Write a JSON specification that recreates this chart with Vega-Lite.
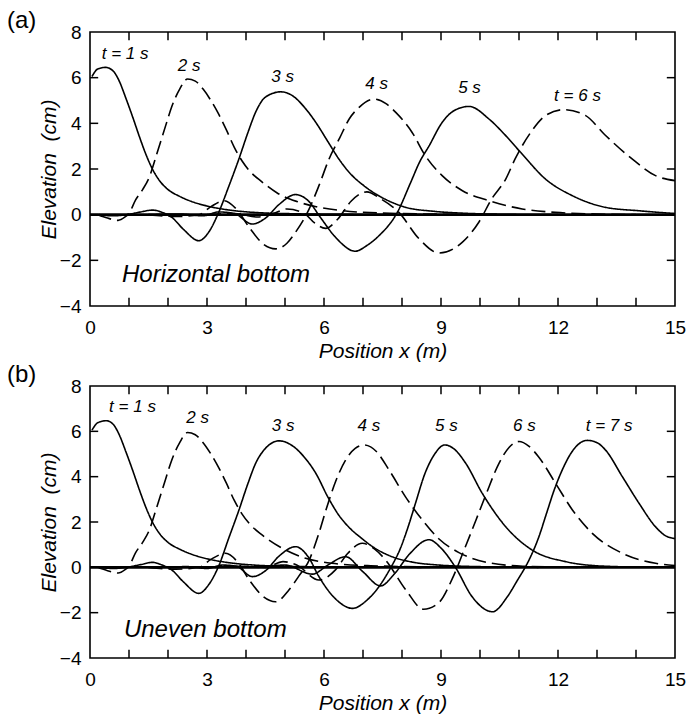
{
  "$schema": "https://vega.github.io/schema/vega-lite/v6.json",
  "padding": {"left": 6, "top": 8, "right": 0, "bottom": 0},
  "spacing": 0,
  "config": {
    "font": "Liberation Sans",
    "view": {"stroke": "black", "strokeWidth": 1.6},
    "axis": {
      "grid": false, "domain": false, "ticks": false,
      "labelColor": "black", "labelFontSize": 19, "labelFont": "Liberation Sans", "labelFlush": false, "labelOverlap": false,
      "titleFontSize": 21, "titleFontStyle": "italic", "titleFontWeight": "normal", "titleColor": "black", "titleFont": "Liberation Sans"
    },
    "title": {"fontSize": 24, "fontWeight": "normal", "anchor": "start", "frame": "group", "dx": -83, "offset": -10, "color": "black", "font": "Liberation Sans"}
  },
  "datasets": {
    "xticks": [{"v":1},{"v":2},{"v":3},{"v":4},{"v":5},{"v":6},{"v":7},{"v":8},{"v":9},{"v":10},{"v":11},{"v":12},{"v":13},{"v":14}],
    "yticks": [{"v":-2},{"v":0},{"v":2},{"v":4},{"v":6}],
    "a_lines": [
      {"t":1,"x":0.05,"y":6.05},{"t":1,"x":0.2,"y":6.38},{"t":1,"x":0.4,"y":6.45},{"t":1,"x":0.6,"y":6.28},{"t":1,"x":0.75,"y":5.85},{"t":1,"x":0.92,"y":5.1},{"t":1,"x":1.1,"y":4.25},{"t":1,"x":1.26,"y":3.45},{"t":1,"x":1.42,"y":2.7},{"t":1,"x":1.6,"y":2.0},{"t":1,"x":1.8,"y":1.45},{"t":1,"x":2.0,"y":1.1},{"t":1,"x":2.3,"y":0.8},{"t":1,"x":2.6,"y":0.58},{"t":1,"x":3.0,"y":0.38},{"t":1,"x":3.5,"y":0.22},{"t":1,"x":4.2,"y":0.1},{"t":1,"x":5.2,"y":0.04},{"t":1,"x":6.8,"y":0.01},{"t":1,"x":8.5,"y":0},
      {"t":2,"x":0.2,"y":0},{"t":2,"x":0.45,"y":-0.15},{"t":2,"x":0.72,"y":-0.25},{"t":2,"x":0.9,"y":-0.1},{"t":2,"x":1.0,"y":0.05},{"t":2,"x":1.17,"y":0.65},{"t":2,"x":1.35,"y":1.1},{"t":2,"x":1.51,"y":1.6},{"t":2,"x":1.72,"y":2.7},{"t":2,"x":1.94,"y":3.9},{"t":2,"x":2.1,"y":4.75},{"t":2,"x":2.3,"y":5.5},{"t":2,"x":2.5,"y":5.94},{"t":2,"x":2.7,"y":5.85},{"t":2,"x":2.9,"y":5.5},{"t":2,"x":3.1,"y":5.0},{"t":2,"x":3.3,"y":4.4},{"t":2,"x":3.5,"y":3.7},{"t":2,"x":3.7,"y":2.95},{"t":2,"x":3.9,"y":2.35},{"t":2,"x":4.1,"y":1.9},{"t":2,"x":4.4,"y":1.45},{"t":2,"x":4.8,"y":0.95},{"t":2,"x":5.3,"y":0.58},{"t":2,"x":5.8,"y":0.35},{"t":2,"x":6.5,"y":0.17},{"t":2,"x":7.5,"y":0.07},{"t":2,"x":9,"y":0.02},{"t":2,"x":10.5,"y":0},
      {"t":3,"x":0.23,"y":0},{"t":3,"x":0.6,"y":-0.05},{"t":3,"x":1.0,"y":0.02},{"t":3,"x":1.3,"y":0.12},{"t":3,"x":1.6,"y":0.2},{"t":3,"x":1.85,"y":0.1},{"t":3,"x":2.1,"y":-0.12},{"t":3,"x":2.4,"y":-0.65},{"t":3,"x":2.79,"y":-1.14},{"t":3,"x":3.05,"y":-0.75},{"t":3,"x":3.3,"y":0.1},{"t":3,"x":3.55,"y":1.2},{"t":3,"x":3.82,"y":2.45},{"t":3,"x":4.05,"y":3.6},{"t":3,"x":4.25,"y":4.5},{"t":3,"x":4.5,"y":5.15},{"t":3,"x":4.89,"y":5.38},{"t":3,"x":5.2,"y":5.2},{"t":3,"x":5.5,"y":4.7},{"t":3,"x":5.79,"y":4.04},{"t":3,"x":6.1,"y":3.2},{"t":3,"x":6.38,"y":2.44},{"t":3,"x":6.7,"y":1.75},{"t":3,"x":7.0,"y":1.3},{"t":3,"x":7.24,"y":1.0},{"t":3,"x":7.6,"y":0.65},{"t":3,"x":8.1,"y":0.32},{"t":3,"x":8.8,"y":0.15},{"t":3,"x":9.5,"y":0.07},{"t":3,"x":10.5,"y":0.02},{"t":3,"x":12,"y":0},
      {"t":4,"x":1.5,"y":0},{"t":4,"x":2.2,"y":-0.08},{"t":4,"x":2.8,"y":0.0},{"t":4,"x":3.1,"y":0.35},{"t":4,"x":3.44,"y":0.61},{"t":4,"x":3.75,"y":0.25},{"t":4,"x":4.1,"y":-0.6},{"t":4,"x":4.45,"y":-1.3},{"t":4,"x":4.76,"y":-1.5},{"t":4,"x":5.05,"y":-1.25},{"t":4,"x":5.27,"y":-0.77},{"t":4,"x":5.62,"y":0.25},{"t":4,"x":5.87,"y":1.27},{"t":4,"x":6.13,"y":2.44},{"t":4,"x":6.4,"y":3.35},{"t":4,"x":6.65,"y":4.2},{"t":4,"x":6.9,"y":4.7},{"t":4,"x":7.28,"y":5.06},{"t":4,"x":7.6,"y":4.85},{"t":4,"x":7.84,"y":4.48},{"t":4,"x":8.26,"y":3.6},{"t":4,"x":8.6,"y":2.58},{"t":4,"x":9.03,"y":1.71},{"t":4,"x":9.55,"y":1.05},{"t":4,"x":10.23,"y":0.61},{"t":4,"x":11.08,"y":0.25},{"t":4,"x":11.93,"y":0.1},{"t":4,"x":13,"y":0.03},{"t":4,"x":14,"y":0},
      {"t":5,"x":1.5,"y":0},{"t":5,"x":2.3,"y":0.03},{"t":5,"x":2.9,"y":-0.05},{"t":5,"x":3.3,"y":0.12},{"t":5,"x":3.7,"y":0.05},{"t":5,"x":4.16,"y":-0.41},{"t":5,"x":4.5,"y":-0.15},{"t":5,"x":4.85,"y":0.45},{"t":5,"x":5.27,"y":0.88},{"t":5,"x":5.6,"y":0.6},{"t":5,"x":5.9,"y":-0.1},{"t":5,"x":6.3,"y":-1.0},{"t":5,"x":6.8,"y":-1.6},{"t":5,"x":7.1,"y":-1.35},{"t":5,"x":7.41,"y":-0.92},{"t":5,"x":7.88,"y":0.1},{"t":5,"x":8.22,"y":1.4},{"t":5,"x":8.45,"y":2.3},{"t":5,"x":8.69,"y":3.0},{"t":5,"x":9.03,"y":4.04},{"t":5,"x":9.33,"y":4.55},{"t":5,"x":9.72,"y":4.74},{"t":5,"x":10.23,"y":4.19},{"t":5,"x":10.66,"y":3.46},{"t":5,"x":11.04,"y":2.73},{"t":5,"x":11.68,"y":1.56},{"t":5,"x":12.37,"y":0.83},{"t":5,"x":13.22,"y":0.32},{"t":5,"x":14.08,"y":0.17},{"t":5,"x":15,"y":0.05},
      {"t":6,"x":3.0,"y":0},{"t":6,"x":3.7,"y":0.05},{"t":6,"x":4.3,"y":-0.1},{"t":6,"x":4.7,"y":0.05},{"t":6,"x":5.05,"y":0.25},{"t":6,"x":5.5,"y":0.05},{"t":6,"x":5.75,"y":-0.35},{"t":6,"x":6.04,"y":-0.6},{"t":6,"x":6.35,"y":-0.2},{"t":6,"x":6.7,"y":0.6},{"t":6,"x":7.1,"y":1.0},{"t":6,"x":7.45,"y":0.7},{"t":6,"x":7.92,"y":0.1},{"t":6,"x":8.44,"y":-1.06},{"t":6,"x":8.95,"y":-1.68},{"t":6,"x":9.55,"y":-1.2},{"t":6,"x":9.97,"y":-0.33},{"t":6,"x":10.3,"y":0.69},{"t":6,"x":10.66,"y":1.56},{"t":6,"x":10.9,"y":2.44},{"t":6,"x":11.3,"y":3.6},{"t":6,"x":11.67,"y":4.33},{"t":6,"x":12.15,"y":4.6},{"t":6,"x":12.7,"y":4.35},{"t":6,"x":13.2,"y":3.5},{"t":6,"x":13.9,"y":2.44},{"t":6,"x":14.5,"y":1.71},{"t":6,"x":15,"y":1.49}
    ],
    "b_lines": [
      {"t":1,"x":0.05,"y":6.05},{"t":1,"x":0.2,"y":6.38},{"t":1,"x":0.42,"y":6.47},{"t":1,"x":0.6,"y":6.3},{"t":1,"x":0.75,"y":5.85},{"t":1,"x":0.92,"y":5.1},{"t":1,"x":1.1,"y":4.25},{"t":1,"x":1.26,"y":3.45},{"t":1,"x":1.42,"y":2.7},{"t":1,"x":1.6,"y":2.0},{"t":1,"x":1.8,"y":1.45},{"t":1,"x":2.0,"y":1.1},{"t":1,"x":2.3,"y":0.8},{"t":1,"x":2.6,"y":0.58},{"t":1,"x":3.0,"y":0.38},{"t":1,"x":3.5,"y":0.22},{"t":1,"x":4.2,"y":0.1},{"t":1,"x":5.2,"y":0.04},{"t":1,"x":6.8,"y":0.01},{"t":1,"x":8.5,"y":0},
      {"t":2,"x":0.2,"y":0},{"t":2,"x":0.45,"y":-0.15},{"t":2,"x":0.72,"y":-0.25},{"t":2,"x":0.9,"y":-0.1},{"t":2,"x":1.0,"y":0.05},{"t":2,"x":1.17,"y":0.65},{"t":2,"x":1.35,"y":1.1},{"t":2,"x":1.51,"y":1.6},{"t":2,"x":1.72,"y":2.7},{"t":2,"x":1.94,"y":3.9},{"t":2,"x":2.1,"y":4.75},{"t":2,"x":2.3,"y":5.5},{"t":2,"x":2.5,"y":5.95},{"t":2,"x":2.7,"y":5.85},{"t":2,"x":2.9,"y":5.5},{"t":2,"x":3.1,"y":5.0},{"t":2,"x":3.3,"y":4.4},{"t":2,"x":3.5,"y":3.7},{"t":2,"x":3.7,"y":2.95},{"t":2,"x":3.9,"y":2.35},{"t":2,"x":4.1,"y":1.9},{"t":2,"x":4.42,"y":1.42},{"t":2,"x":5.02,"y":0.76},{"t":2,"x":5.53,"y":0.4},{"t":2,"x":6.2,"y":0.18},{"t":2,"x":7.2,"y":0.07},{"t":2,"x":8.8,"y":0.02},{"t":2,"x":10.5,"y":0},
      {"t":3,"x":0.23,"y":0},{"t":3,"x":0.6,"y":-0.05},{"t":3,"x":1.0,"y":0.02},{"t":3,"x":1.3,"y":0.12},{"t":3,"x":1.6,"y":0.22},{"t":3,"x":1.85,"y":0.1},{"t":3,"x":2.1,"y":-0.12},{"t":3,"x":2.4,"y":-0.65},{"t":3,"x":2.79,"y":-1.15},{"t":3,"x":3.05,"y":-0.75},{"t":3,"x":3.31,"y":0.1},{"t":3,"x":3.55,"y":1.25},{"t":3,"x":3.82,"y":2.53},{"t":3,"x":4.05,"y":3.7},{"t":3,"x":4.25,"y":4.6},{"t":3,"x":4.5,"y":5.25},{"t":3,"x":4.85,"y":5.58},{"t":3,"x":5.2,"y":5.35},{"t":3,"x":5.5,"y":4.85},{"t":3,"x":5.79,"y":4.15},{"t":3,"x":6.1,"y":3.1},{"t":3,"x":6.38,"y":2.3},{"t":3,"x":6.65,"y":1.75},{"t":3,"x":6.95,"y":1.3},{"t":3,"x":7.3,"y":0.85},{"t":3,"x":7.67,"y":0.52},{"t":3,"x":8.3,"y":0.22},{"t":3,"x":8.95,"y":0.1},{"t":3,"x":10,"y":0.03},{"t":3,"x":11.5,"y":0},
      {"t":4,"x":1.5,"y":0},{"t":4,"x":2.2,"y":-0.08},{"t":4,"x":2.8,"y":0.0},{"t":4,"x":3.1,"y":0.35},{"t":4,"x":3.48,"y":0.62},{"t":4,"x":3.8,"y":0.2},{"t":4,"x":4.1,"y":-0.6},{"t":4,"x":4.45,"y":-1.3},{"t":4,"x":4.76,"y":-1.52},{"t":4,"x":5.1,"y":-1.0},{"t":4,"x":5.35,"y":-0.4},{"t":4,"x":5.62,"y":0.32},{"t":4,"x":5.85,"y":1.4},{"t":4,"x":6.05,"y":2.53},{"t":4,"x":6.3,"y":3.8},{"t":4,"x":6.56,"y":4.75},{"t":4,"x":6.8,"y":5.25},{"t":4,"x":7.03,"y":5.4},{"t":4,"x":7.35,"y":5.1},{"t":4,"x":7.67,"y":4.29},{"t":4,"x":8.09,"y":3.11},{"t":4,"x":8.52,"y":2.09},{"t":4,"x":8.95,"y":1.25},{"t":4,"x":9.46,"y":0.65},{"t":4,"x":10.23,"y":0.2},{"t":4,"x":11.1,"y":0.05},{"t":4,"x":12.5,"y":0},
      {"t":5,"x":1.5,"y":0},{"t":5,"x":2.5,"y":0.03},{"t":5,"x":3.0,"y":-0.05},{"t":5,"x":3.4,"y":0.1},{"t":5,"x":3.75,"y":0.05},{"t":5,"x":4.16,"y":-0.41},{"t":5,"x":4.5,"y":-0.15},{"t":5,"x":4.85,"y":0.5},{"t":5,"x":5.27,"y":0.91},{"t":5,"x":5.6,"y":0.45},{"t":5,"x":5.87,"y":-0.41},{"t":5,"x":6.3,"y":-1.4},{"t":5,"x":6.73,"y":-1.81},{"t":5,"x":7.1,"y":-1.45},{"t":5,"x":7.41,"y":-0.85},{"t":5,"x":7.7,"y":-0.05},{"t":5,"x":7.95,"y":0.8},{"t":5,"x":8.15,"y":1.75},{"t":5,"x":8.35,"y":2.85},{"t":5,"x":8.58,"y":4.1},{"t":5,"x":8.82,"y":4.95},{"t":5,"x":9.1,"y":5.4},{"t":5,"x":9.35,"y":5.2},{"t":5,"x":9.63,"y":4.6},{"t":5,"x":10.06,"y":3.26},{"t":5,"x":10.66,"y":1.79},{"t":5,"x":11.34,"y":0.76},{"t":5,"x":12.2,"y":0.25},{"t":5,"x":13.2,"y":0.05},{"t":5,"x":14.5,"y":0},
      {"t":6,"x":3.2,"y":0},{"t":6,"x":4.0,"y":0.05},{"t":6,"x":4.5,"y":0.0},{"t":6,"x":4.95,"y":0.25},{"t":6,"x":5.3,"y":0.1},{"t":6,"x":5.87,"y":-0.56},{"t":6,"x":6.3,"y":-0.1},{"t":6,"x":6.6,"y":0.6},{"t":6,"x":6.98,"y":1.06},{"t":6,"x":7.3,"y":0.8},{"t":6,"x":7.58,"y":0.32},{"t":6,"x":8.1,"y":-1.0},{"t":6,"x":8.55,"y":-1.85},{"t":6,"x":8.95,"y":-1.55},{"t":6,"x":9.29,"y":-0.5},{"t":6,"x":9.6,"y":0.8},{"t":6,"x":9.9,"y":2.1},{"t":6,"x":10.15,"y":3.2},{"t":6,"x":10.49,"y":4.6},{"t":6,"x":10.75,"y":5.3},{"t":6,"x":11.0,"y":5.55},{"t":6,"x":11.25,"y":5.35},{"t":6,"x":11.5,"y":4.88},{"t":6,"x":11.94,"y":3.7},{"t":6,"x":12.37,"y":2.53},{"t":6,"x":12.88,"y":1.5},{"t":6,"x":13.65,"y":0.62},{"t":6,"x":14.5,"y":0.18},{"t":6,"x":15,"y":0.08},
      {"t":7,"x":4.3,"y":0},{"t":7,"x":5.0,"y":0.1},{"t":7,"x":5.7,"y":-0.3},{"t":7,"x":6.1,"y":0.1},{"t":7,"x":6.55,"y":0.47},{"t":7,"x":7.0,"y":-0.2},{"t":7,"x":7.45,"y":-0.82},{"t":7,"x":7.8,"y":-0.3},{"t":7,"x":8.2,"y":0.6},{"t":7,"x":8.69,"y":1.22},{"t":7,"x":9.0,"y":0.85},{"t":7,"x":9.37,"y":0.0},{"t":7,"x":9.8,"y":-1.3},{"t":7,"x":10.32,"y":-1.96},{"t":7,"x":10.7,"y":-1.3},{"t":7,"x":10.95,"y":-0.6},{"t":7,"x":11.25,"y":0.3},{"t":7,"x":11.5,"y":1.3},{"t":7,"x":11.7,"y":2.35},{"t":7,"x":11.9,"y":3.4},{"t":7,"x":12.11,"y":4.3},{"t":7,"x":12.4,"y":5.2},{"t":7,"x":12.75,"y":5.6},{"t":7,"x":13.0,"y":5.5},{"t":7,"x":13.22,"y":5.17},{"t":7,"x":13.65,"y":4.0},{"t":7,"x":14.08,"y":2.82},{"t":7,"x":14.5,"y":1.79},{"t":7,"x":14.75,"y":1.4},{"t":7,"x":15,"y":1.27}
    ],
    "a_labels": [
      {"x":0.9,"y":6.8,"label":"t = 1 s"},{"x":2.54,"y":6.29,"label":"2 s"},{"x":4.94,"y":5.8,"label":"3 s"},{"x":7.35,"y":5.5,"label":"4 s"},{"x":9.73,"y":5.33,"label":"5 s"},{"x":12.5,"y":4.97,"label":"t = 6 s"}
    ],
    "b_labels": [
      {"x":1.09,"y":6.85,"label":"t = 1 s"},{"x":2.76,"y":6.37,"label":"2 s"},{"x":4.95,"y":6.01,"label":"3 s"},{"x":7.15,"y":6.01,"label":"4 s"},{"x":9.14,"y":6.01,"label":"5 s"},{"x":11.14,"y":6.01,"label":"6 s"},{"x":13.31,"y":6.01,"label":"t = 7 s"}
    ],
    "a_note": [{"x":0.82,"y":-2.95,"label":"Horizontal bottom"}],
    "b_note": [{"x":0.87,"y":-3.07,"label":"Uneven bottom"}]
  },
  "vconcat": [
    {
      "width": 585, "height": 274,
      "title": {"text": "(a)"},
      "resolve": {"axis": {"x": "independent", "y": "independent"}},
      "layer": [
        {
          "data": {"name": "a_lines"},
          "mark": {"type": "line", "interpolate": "monotone", "strokeWidth": 1.6, "color": "black", "clip": true},
          "encoding": {
            "x": {"field": "x", "type": "quantitative", "scale": {"domain": [0, 15], "nice": false, "zero": false},
                  "axis": {"orient": "bottom", "values": [0,3,6,9,12,15], "labelPadding": 12, "title": "Position x (m)", "titlePadding": 3}},
            "y": {"field": "y", "type": "quantitative", "scale": {"domain": [-4, 8], "nice": false, "zero": false},
                  "axis": {"orient": "left", "values": [-4,-2,0,2,4,6,8], "labelPadding": 9, "title": "Elevation\u00a0 (cm)", "titlePadding": 0}},
            "strokeDash": {"field": "t", "type": "nominal", "scale": {"domain": [1,2,3,4,5,6,7], "range": [[1,0],[14,6],[1,0],[14,6],[1,0],[14,6],[1,0]]}, "legend": null}
          }
        },
        {
          "data": {"name": "xticks"},
          "mark": {"type": "rule", "strokeWidth": 1.5, "color": "black"},
          "encoding": {"x": {"field": "v", "type": "quantitative", "axis": null}, "y": {"datum": -4, "type": "quantitative", "axis": null}, "y2": {"datum": -3.64}}
        },
        {
          "data": {"name": "xticks"},
          "mark": {"type": "rule", "strokeWidth": 1.5, "color": "black"},
          "encoding": {"x": {"field": "v", "type": "quantitative", "axis": null}, "y": {"datum": 8, "type": "quantitative", "axis": null}, "y2": {"datum": 7.64}}
        },
        {
          "data": {"name": "yticks"},
          "mark": {"type": "rule", "strokeWidth": 1.5, "color": "black"},
          "encoding": {"y": {"field": "v", "type": "quantitative", "axis": null}, "x": {"datum": 0, "type": "quantitative", "axis": null}, "x2": {"datum": 0.21}}
        },
        {
          "data": {"name": "yticks"},
          "mark": {"type": "rule", "strokeWidth": 1.5, "color": "black"},
          "encoding": {"y": {"field": "v", "type": "quantitative", "axis": null}, "x": {"datum": 15, "type": "quantitative", "axis": null}, "x2": {"datum": 14.79}}
        },
        {
          "data": {"name": "a_labels"},
          "mark": {"type": "text", "fontSize": 17, "fontStyle": "italic", "align": "center", "baseline": "alphabetic", "color": "black"},
          "encoding": {
            "x": {"field": "x", "type": "quantitative", "axis": null},
            "y": {"field": "y", "type": "quantitative", "axis": null},
            "text": {"field": "label"}
          }
        },
        {
          "data": {"name": "a_note"},
          "mark": {"type": "text", "fontSize": 24, "fontStyle": "italic", "align": "left", "baseline": "alphabetic", "color": "black"},
          "encoding": {
            "x": {"field": "x", "type": "quantitative", "axis": null},
            "y": {"field": "y", "type": "quantitative", "axis": null},
            "text": {"field": "label"}
          }
        },
        {
          "data": {"values": [{}]},
          "mark": {"type": "rule", "strokeWidth": 2.6, "color": "black"},
          "encoding": {"y": {"datum": 0, "type": "quantitative", "axis": null}}
        }
      ]
    },
    {
      "width": 585, "height": 272,
      "title": {"text": "(b)"},
      "resolve": {"axis": {"x": "independent", "y": "independent"}},
      "layer": [
        {
          "data": {"name": "b_lines"},
          "mark": {"type": "line", "interpolate": "monotone", "strokeWidth": 1.6, "color": "black", "clip": true},
          "encoding": {
            "x": {"field": "x", "type": "quantitative", "scale": {"domain": [0, 15], "nice": false, "zero": false},
                  "axis": {"orient": "bottom", "values": [0,3,6,9,12,15], "labelPadding": 12, "title": "Position x (m)", "titlePadding": 3}},
            "y": {"field": "y", "type": "quantitative", "scale": {"domain": [-4, 8], "nice": false, "zero": false},
                  "axis": {"orient": "left", "values": [-4,-2,0,2,4,6,8], "labelPadding": 9, "title": "Elevation\u00a0 (cm)", "titlePadding": 0}},
            "strokeDash": {"field": "t", "type": "nominal", "scale": {"domain": [1,2,3,4,5,6,7], "range": [[1,0],[14,6],[1,0],[14,6],[1,0],[14,6],[1,0]]}, "legend": null}
          }
        },
        {
          "data": {"name": "xticks"},
          "mark": {"type": "rule", "strokeWidth": 1.5, "color": "black"},
          "encoding": {"x": {"field": "v", "type": "quantitative", "axis": null}, "y": {"datum": -4, "type": "quantitative", "axis": null}, "y2": {"datum": -3.64}}
        },
        {
          "data": {"name": "xticks"},
          "mark": {"type": "rule", "strokeWidth": 1.5, "color": "black"},
          "encoding": {"x": {"field": "v", "type": "quantitative", "axis": null}, "y": {"datum": 8, "type": "quantitative", "axis": null}, "y2": {"datum": 7.64}}
        },
        {
          "data": {"name": "yticks"},
          "mark": {"type": "rule", "strokeWidth": 1.5, "color": "black"},
          "encoding": {"y": {"field": "v", "type": "quantitative", "axis": null}, "x": {"datum": 0, "type": "quantitative", "axis": null}, "x2": {"datum": 0.21}}
        },
        {
          "data": {"name": "yticks"},
          "mark": {"type": "rule", "strokeWidth": 1.5, "color": "black"},
          "encoding": {"y": {"field": "v", "type": "quantitative", "axis": null}, "x": {"datum": 15, "type": "quantitative", "axis": null}, "x2": {"datum": 14.79}}
        },
        {
          "data": {"name": "b_labels"},
          "mark": {"type": "text", "fontSize": 17, "fontStyle": "italic", "align": "center", "baseline": "alphabetic", "color": "black"},
          "encoding": {
            "x": {"field": "x", "type": "quantitative", "axis": null},
            "y": {"field": "y", "type": "quantitative", "axis": null},
            "text": {"field": "label"}
          }
        },
        {
          "data": {"name": "b_note"},
          "mark": {"type": "text", "fontSize": 24, "fontStyle": "italic", "align": "left", "baseline": "alphabetic", "color": "black"},
          "encoding": {
            "x": {"field": "x", "type": "quantitative", "axis": null},
            "y": {"field": "y", "type": "quantitative", "axis": null},
            "text": {"field": "label"}
          }
        },
        {
          "data": {"values": [{}]},
          "mark": {"type": "rule", "strokeWidth": 2.6, "color": "black"},
          "encoding": {"y": {"datum": 0, "type": "quantitative", "axis": null}}
        }
      ]
    }
  ]
}
